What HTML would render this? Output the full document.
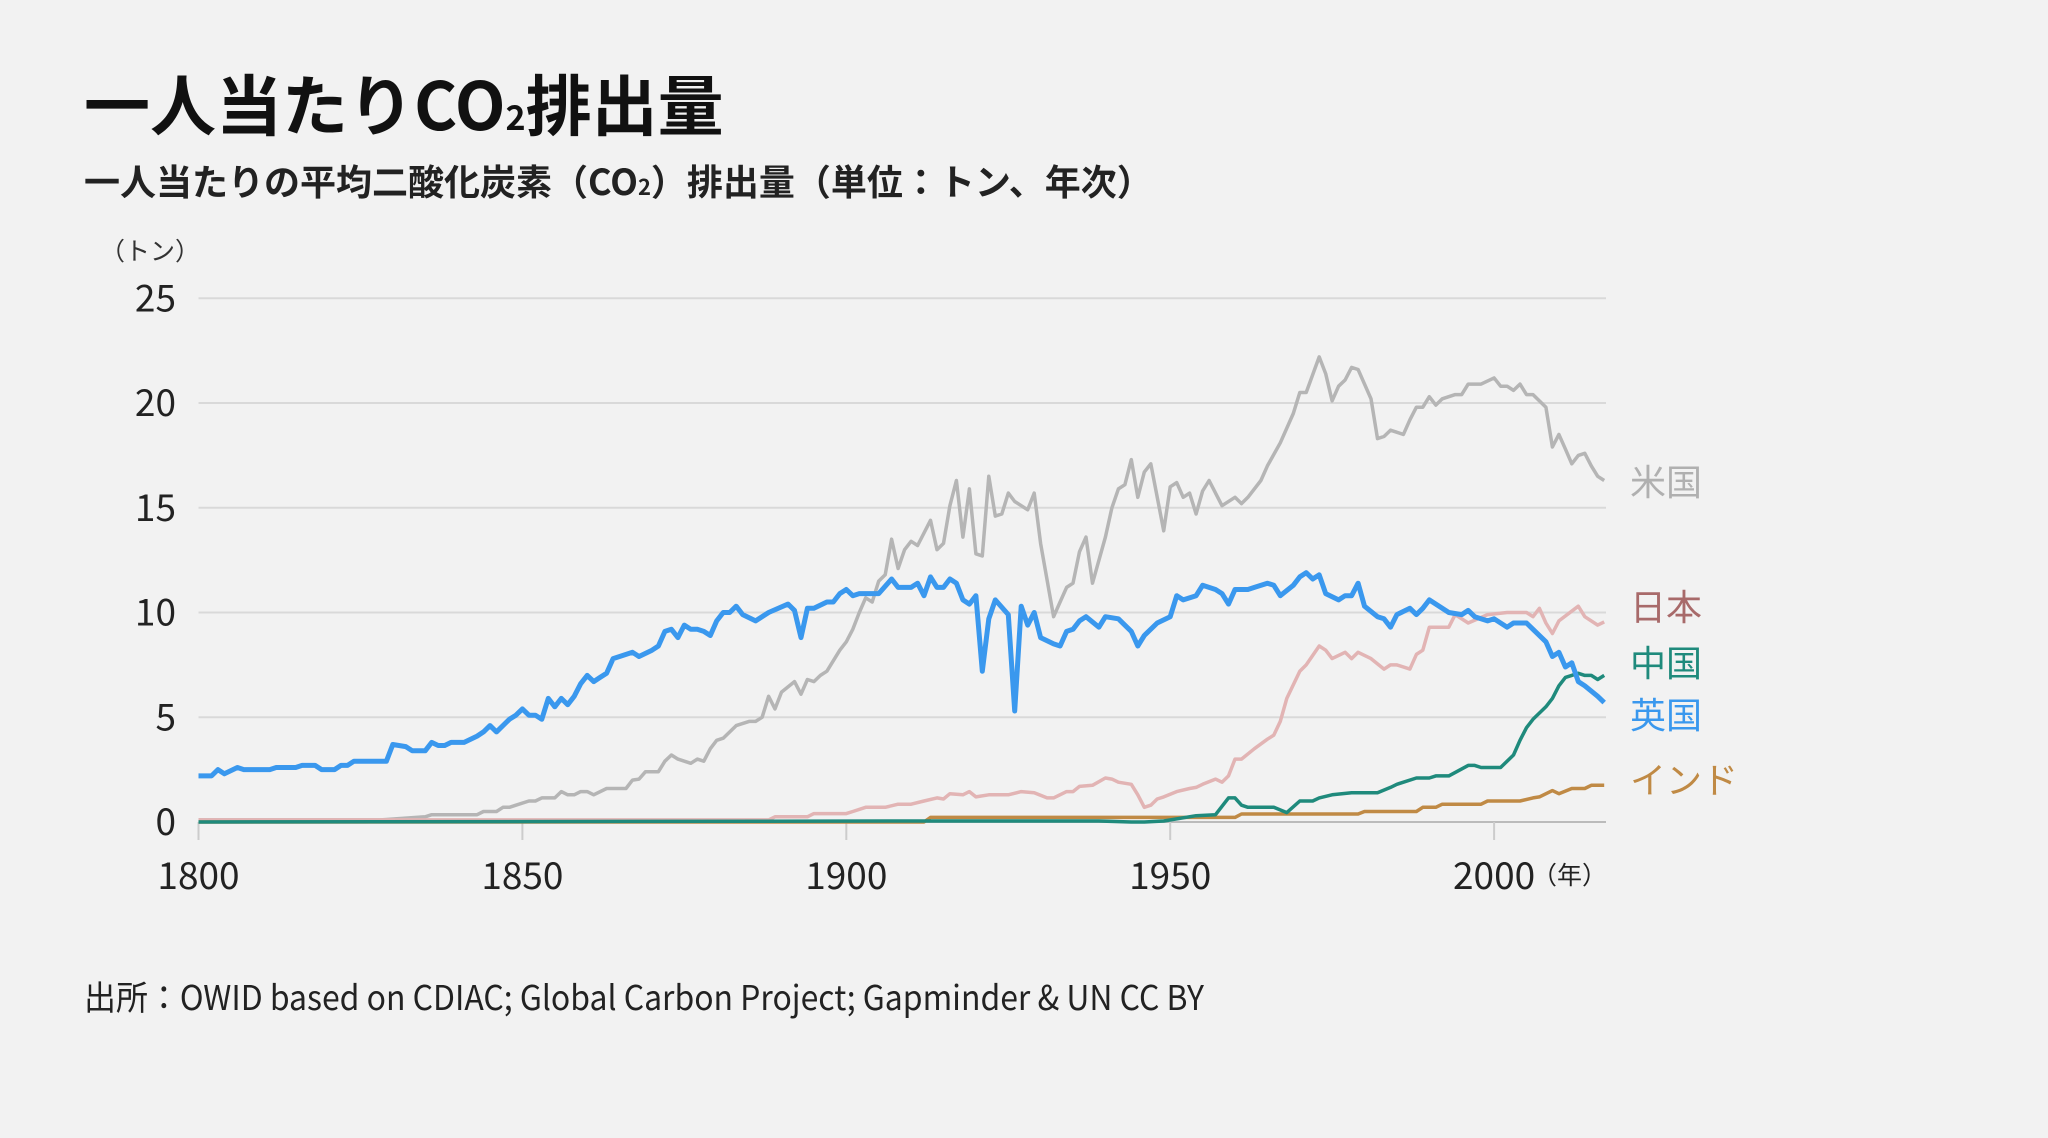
<!DOCTYPE html>
<html><head><meta charset="utf-8">
<style>
html,body{margin:0;padding:0;background:#f2f2f2;}
body{width:2048px;height:1138px;overflow:hidden;position:relative;font-family:"Noto Sans CJK JP","Liberation Sans",sans-serif;}
svg{position:absolute;left:0;top:0;}
</style></head>
<body>
<svg id="chart" width="2048" height="1138" viewBox="0 0 2048 1138">
<text x="84" y="130" font-size="66" font-weight="bold" fill="#111" font-family="Noto Sans CJK JP, Liberation Sans, sans-serif">一人当たりCO<tspan font-size="34">2</tspan>排出量</text>
<text x="84" y="195" font-size="36" font-weight="bold" fill="#222" font-family="Noto Sans CJK JP, Liberation Sans, sans-serif">一人当たりの平均二酸化炭素（CO<tspan font-size="22">2</tspan>）排出量（単位：トン、年次）</text>
<text x="100" y="260" font-size="25" fill="#333" font-family="Noto Sans CJK JP, Liberation Sans, sans-serif">（トン）</text>
<g id="grid"></g><g id="lines"></g><g id="labels"></g>
<text x="84" y="1010" font-size="34" fill="#222" textLength="1120" lengthAdjust="spacingAndGlyphs" font-family="Noto Sans CJK JP, Liberation Sans, sans-serif">出所：OWID based on CDIAC; Global Carbon Project; Gapminder &amp; UN CC BY</text>
</svg>
<script>
const yTicks=[0,5,10,15,20,25];
const xTicks=[1800,1850,1900,1950,2000];
const usYears=[
1800,1828,1835,1836,1843,1844,1846,1847,1848,1849,
1851,1852,1853,1855,1856,1857,1858,1859,1860,1861,
1863,1866,1867,1868,1869,1871,1872,1873,1874,1876,
1877,1878,1879,1880,1881,1883,1885,1886,1887,1888,
1889,1890,1892,1893,1894,1895,1896,1897,1899,1900,
1901,1902,1903,1904,1905,1906,1907,1908,1909,1910,
1911,1913,1914,1915,1916,1917,1918,1919,1920,1921,
1922,1923,1924,1925,1926,1928,1929,1930,1932,1933,
1934,1935,1936,1937,1938,1940,1941,1942,1943,1944,
1945,1946,1947,1949,1950,1951,1952,1953,1954,1955,
1956,1958,1960,1961,1962,1964,1965,1967,1969,1970,
1971,1973,1974,1975,1976,1977,1978,1979,1981,1982,
1983,1984,1986,1987,1988,1989,1990,1991,1992,1994,
1995,1996,1998,2000,2001,2002,2003,2004,2005,2006,
2008,2009,2010,2011,2012,2013,2014,2015,2016,2017];
const usVals=[
0.1,0.1,0.25,0.35,0.35,0.5,0.5,0.7,0.7,0.8,
1.0,1.0,1.15,1.15,1.45,1.3,1.3,1.45,1.45,1.3,
1.6,1.6,2.0,2.05,2.4,2.4,2.9,3.2,3.0,2.8,
3.0,2.9,3.5,3.9,4.0,4.6,4.8,4.8,5.0,6.0,
5.4,6.2,6.7,6.1,6.8,6.7,7.0,7.2,8.2,8.6,
9.2,10.0,10.7,10.5,11.5,11.8,13.5,12.1,13.0,13.4,
13.2,14.4,13.0,13.3,15.1,16.3,13.6,15.9,12.8,12.7,
16.5,14.6,14.7,15.7,15.3,14.9,15.7,13.3,9.8,10.5,
11.2,11.4,12.9,13.6,11.4,13.6,15.0,15.9,16.1,17.3,
15.5,16.7,17.1,13.9,16.0,16.2,15.5,15.7,14.7,15.8,
16.3,15.1,15.5,15.2,15.5,16.3,17.0,18.1,19.5,20.5,
20.5,22.2,21.4,20.1,20.8,21.1,21.7,21.6,20.2,18.3,
18.4,18.7,18.5,19.2,19.8,19.8,20.3,19.9,20.2,20.4,
20.4,20.9,20.9,21.2,20.8,20.8,20.6,20.9,20.4,20.4,
19.8,17.9,18.5,17.8,17.1,17.5,17.6,17.0,16.5,16.3];
const ukYears=[
1800,1802,1803,1804,1806,1807,1811,1812,1815,1816,
1818,1819,1821,1822,1823,1824,1829,1830,1832,1833,
1835,1836,1837,1838,1839,1841,1843,1844,1845,1846,
1848,1849,1850,1851,1852,1853,1854,1855,1856,1857,
1858,1859,1860,1861,1862,1863,1864,1865,1867,1868,
1870,1871,1872,1873,1874,1875,1876,1877,1878,1879,
1880,1881,1882,1883,1884,1886,1888,1891,1892,1893,
1894,1895,1897,1898,1899,1900,1901,1902,1905,1907,
1908,1910,1911,1912,1913,1914,1915,1916,1917,1918,
1919,1920,1921,1922,1923,1925,1926,1927,1928,1929,
1930,1932,1933,1934,1935,1936,1937,1939,1940,1942,
1944,1945,1946,1948,1950,1951,1952,1954,1955,1957,
1958,1959,1960,1962,1963,1965,1966,1967,1969,1970,
1971,1972,1973,1974,1976,1977,1978,1979,1980,1982,
1983,1984,1985,1987,1988,1989,1990,1993,1995,1996,
1997,1999,2000,2002,2003,2005,2006,2008,2009,2010,
2011,2012,2013,2014,2016,2017];
const ukVals=[
2.2,2.2,2.5,2.3,2.6,2.5,2.5,2.6,2.6,2.7,
2.7,2.5,2.5,2.7,2.7,2.9,2.9,3.7,3.6,3.4,
3.4,3.8,3.65,3.65,3.8,3.8,4.1,4.3,4.6,4.3,
4.9,5.1,5.4,5.1,5.1,4.9,5.9,5.5,5.9,5.6,
6.0,6.6,7.0,6.7,6.9,7.1,7.8,7.9,8.1,7.9,
8.2,8.4,9.1,9.2,8.8,9.4,9.2,9.2,9.1,8.9,
9.6,10.0,10.0,10.3,9.9,9.6,10.0,10.4,10.1,8.8,
10.2,10.2,10.5,10.5,10.9,11.1,10.8,10.9,10.9,11.6,
11.2,11.2,11.4,10.8,11.7,11.2,11.2,11.6,11.4,10.6,
10.4,10.8,7.2,9.7,10.6,9.9,5.3,10.3,9.4,10.0,
8.8,8.5,8.4,9.1,9.2,9.6,9.8,9.3,9.8,9.7,
9.1,8.4,8.9,9.5,9.8,10.8,10.6,10.8,11.3,11.1,
10.9,10.4,11.1,11.1,11.2,11.4,11.3,10.8,11.3,11.7,
11.9,11.6,11.8,10.9,10.6,10.8,10.8,11.4,10.3,9.8,
9.7,9.3,9.9,10.2,9.9,10.2,10.6,10.0,9.9,10.1,
9.8,9.6,9.7,9.3,9.5,9.5,9.2,8.6,7.9,8.1,
7.4,7.6,6.7,6.5,6.0,5.7];
const jpYears=[1800,1888,1889,1894,1895,1900,1901,1903,1906,1908,1910,1912,1914,1915,1916,1918,1919,1920,1922,1925,1927,1929,1931,1932,1934,1935,1936,1938,1940,1941,1942,1944,1945,1946,1947,1948,1949,1951,1953,1954,1955,1957,1958,1959,1960,1961,1963,1965,1966,1967,1968,1970,1971,1973,1974,1975,1977,1978,1979,1981,1983,1984,1985,1987,1988,1989,1990,1993,1994,1996,1999,2002,2005,2006,2007,2008,2009,2010,2013,2014,2016,2017];
const jpVals=[0.1,0.1,0.25,0.25,0.4,0.4,0.5,0.7,0.7,0.85,0.85,1.0,1.15,1.1,1.35,1.3,1.45,1.2,1.3,1.3,1.45,1.4,1.15,1.15,1.45,1.45,1.7,1.75,2.1,2.05,1.9,1.8,1.3,0.7,0.8,1.1,1.2,1.45,1.6,1.65,1.8,2.05,1.9,2.2,3.0,3.0,3.5,3.95,4.15,4.8,5.9,7.2,7.5,8.4,8.2,7.8,8.1,7.8,8.1,7.8,7.3,7.5,7.5,7.3,8.0,8.2,9.3,9.3,9.9,9.5,9.9,10.0,10.0,9.8,10.2,9.5,9.0,9.6,10.3,9.8,9.4,9.55];
const cnYears=[1800,1912,1939,1944,1946,1949,1954,1957,1959,1960,1961,1962,1966,1968,1970,1972,1973,1975,1978,1982,1984,1985,1988,1990,1991,1993,1996,1997,1998,2001,2003,2004,2005,2006,2008,2009,2010,2011,2013,2014,2015,2016,2017];
const cnVals=[0.0,0.05,0.05,0.0,0.0,0.05,0.3,0.35,1.15,1.15,0.8,0.7,0.7,0.45,1.0,1.0,1.15,1.3,1.4,1.4,1.65,1.8,2.1,2.1,2.2,2.2,2.7,2.7,2.6,2.6,3.2,3.9,4.5,4.9,5.5,5.9,6.5,6.9,7.1,7.0,7.0,6.8,7.0];
const inYears=[1800,1912,1913,1960,1961,1979,1980,1988,1989,1991,1992,1998,1999,2004,2006,2007,2009,2010,2012,2014,2015,2017];
const inVals=[0.0,0.0,0.22,0.22,0.38,0.38,0.5,0.5,0.7,0.7,0.85,0.85,1.0,1.0,1.15,1.2,1.5,1.35,1.6,1.6,1.75,1.75];

const X0=198.5, PX_PER_YEAR=6.478, Y0=822, PX_PER_UNIT=20.95, XR=1606;
const xs=y=>X0+(y-1800)*PX_PER_YEAR;
const ys=v=>Y0-v*PX_PER_UNIT;
const NS="http://www.w3.org/2000/svg";
const grid=document.getElementById('grid'),lines=document.getElementById('lines'),labels=document.getElementById('labels');
const FONT='Noto Sans CJK JP, Liberation Sans, sans-serif';
yTicks.forEach(t=>{
  const l=document.createElementNS(NS,'line');
  
  
  l.setAttribute('x1',X0);l.setAttribute('x2',XR);l.setAttribute('y1',ys(t));l.setAttribute('y2',ys(t));
  l.setAttribute('stroke',t===0?'#bbb':'#d9d9d9');l.setAttribute('stroke-width','2');
  grid.appendChild(l);
  const tx=document.createElementNS(NS,'text');
  
  
  tx.setAttribute('x',176);tx.setAttribute('y',ys(t)+13);tx.setAttribute('text-anchor','end');
  tx.setAttribute('font-size','37');tx.setAttribute('fill','#222');tx.setAttribute('font-family',FONT);
  tx.textContent=t;grid.appendChild(tx);
});
xTicks.forEach(t=>{
  const l=document.createElementNS(NS,'line');
  
  
  l.setAttribute('x1',xs(t));l.setAttribute('x2',xs(t));l.setAttribute('y1',Y0);l.setAttribute('y2',Y0+18);
  l.setAttribute('stroke','#ccc');l.setAttribute('stroke-width','2');
  grid.appendChild(l);
  const tx=document.createElementNS(NS,'text');
  
  
  tx.setAttribute('x',xs(t));tx.setAttribute('y',889);tx.setAttribute('text-anchor','middle');
  tx.setAttribute('font-size','37');tx.setAttribute('fill','#222');tx.setAttribute('font-family',FONT);
  tx.textContent=t;grid.appendChild(tx);
});
const yr=document.createElementNS(NS,'text');


yr.setAttribute('x',1532);yr.setAttribute('y',884);yr.setAttribute('font-size','25');yr.setAttribute('fill','#222');yr.setAttribute('font-family',FONT);
yr.textContent='（年）';grid.appendChild(yr);

function drawSeries(name,years,vals,color,width){
  const p=document.createElementNS(NS,'polyline');
  
  
  p.setAttribute('points',years.map((y,i)=>xs(y).toFixed(1)+','+ys(vals[i]).toFixed(1)).join(' '));
  p.setAttribute('fill','none');p.setAttribute('stroke',color);p.setAttribute('stroke-width',width);
  p.setAttribute('stroke-linejoin','round');
  lines.appendChild(p);
}
drawSeries('us-line',usYears,usVals,'#b5b5b5',3.5);
drawSeries('japan-line',jpYears,jpVals,'#e2b4b4',3.5);
drawSeries('india-line',inYears,inVals,'#c08a45',3.5);
drawSeries('china-line',cnYears,cnVals,'#1f8a7c',3.5);
drawSeries('uk-line',ukYears,ukVals,'#3a98ee',5);

function label(name,text,y,color){
  const t=document.createElementNS(NS,'text');
  
  
  t.setAttribute('x',1630);t.setAttribute('y',y);t.setAttribute('font-size','36');t.setAttribute('fill',color);t.setAttribute('font-family',FONT);
  t.textContent=text;labels.appendChild(t);
}
label('legend-us','米国',495,'#b0b0b0');
label('legend-japan','日本',620,'#a86a6a');
label('legend-china','中国',676,'#1f8a7c');
label('legend-uk','英国',728,'#3a98ee');
label('legend-india','インド',793,'#c08a45');
</script>
</body></html>
